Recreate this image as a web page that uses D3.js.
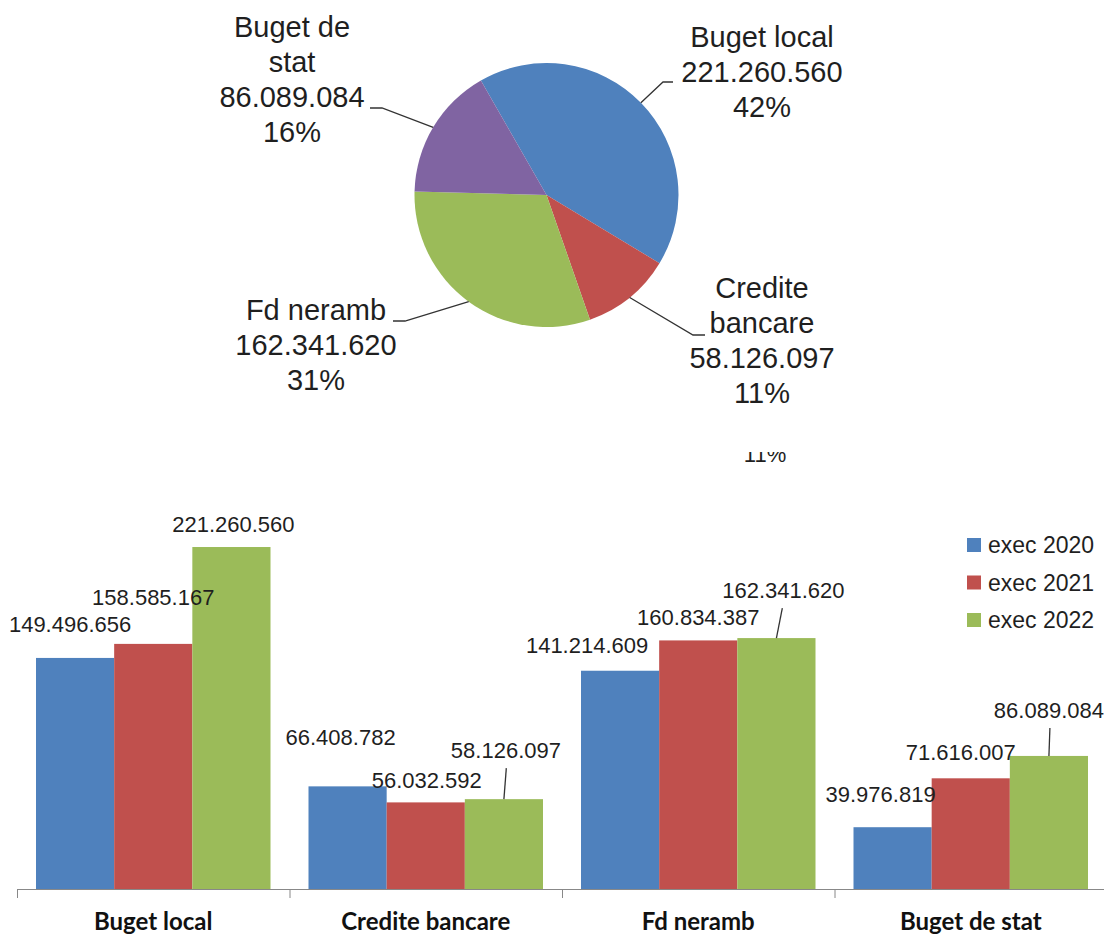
<!DOCTYPE html>
<html>
<head>
<meta charset="utf-8">
<script src="https://cdn.jsdelivr.net/npm/d3@7"></script>
<style>
  body { margin: 0; background: #fff; }
</style>
</head>
<body>
<div id="chart"></div>
<script>

// data
var categories = ["Buget local", "Credite bancare", "Fd neramb", "Buget de stat"];
var seriesNames = ["exec 2020", "exec 2021", "exec 2022"];
var exec2020 = [149496656, 66408782, 141214609, 39976819];
var exec2021 = [158585167, 56032592, 160834387, 71616007];
var exec2022 = [221260560, 58126097, 162341620, 86089084];
var colors = ["#4F81BD", "#C0504D", "#9BBB59", "#8064A2"];

// how the pie labels wrap
var pieNameLines = [["Buget local"], ["Credite", "bancare"], ["Fd neramb"], ["Buget de", "stat"]];

// hand placed label spots (layout only)
var pieLabelPos = [
    {x: 762, y: 47,  elbow: [663, 82],  end: [673, 82]},
    {x: 762, y: 298, elbow: [693, 335], end: [705, 335]},
    {x: 316, y: 320, elbow: [405, 321], end: [393, 321]},
    {x: 292, y: 37,  elbow: [382, 108], end: [370, 108]}
];
// [dx, dy, leader] relative to bar top centre, per category then series
var barLabelNudge = [
    [[-5, -26, 0], [0, -39, 0], [2, -15, 0]],
    [[-7, -41, 0], [1, -14, 0], [2, -41, 1]],
    [[-33, -18, 0], [0, -15, 0], [7, -40, 1]],
    [[-12, -25, 0], [-10, -18, 0], [0, -38, 1]]
];

var W = 1104, H = 937;
var FONT = "'Liberation Sans', Arial, Helvetica, sans-serif";
var fmt = d3.formatLocale({decimal: ",", thousands: ".", grouping: [3], currency: ["", ""]}).format(",d");

var svg = d3.select("#chart").append("svg")
    .attr("width", W)
    .attr("height", H)
    .attr("font-family", FONT)
    .style("font-family", FONT);

svg.append("rect").attr("width", W).attr("height", H).attr("fill", "#fff");

// ---------- pie ----------
var cx = 546.5, cy = 195, r = 132;
var total = d3.sum(exec2022);
var a0 = -29.8 * Math.PI / 180;

var pie = d3.pie().sort(null).startAngle(a0).endAngle(a0 + 2 * Math.PI);
var arcs = pie(exec2022);
var arc = d3.arc().innerRadius(0).outerRadius(r);

var pg = svg.append("g").attr("transform", "translate(" + cx + "," + cy + ")");
pg.selectAll("path.slice")
    .data(arcs)
    .enter().append("path")
    .attr("class", "slice")
    .attr("d", arc)
    .attr("fill", function(d, i) { return colors[i]; });

// leader lines
var edge = d3.arc().innerRadius(r).outerRadius(r);
arcs.forEach(function(d, i) {
    var c = edge.centroid(d);
    var p = pieLabelPos[i];
    svg.append("polyline")
        .attr("points", [[cx + c[0], cy + c[1]], p.elbow, p.end].map(function(q) { return q.join(","); }).join(" "))
        .attr("fill", "none")
        .attr("stroke", "#333")
        .attr("stroke-width", 1.3);
});

arcs.forEach(function(d, i) {
    var p = pieLabelPos[i];
    var lines = pieNameLines[i].concat([fmt(d.data), Math.round(d.data / total * 100) + "%"]);
    var t = svg.append("text")
        .attr("x", p.x)
        .attr("y", p.y)
        .attr("text-anchor", "middle")
        .attr("fill", "#1f1f1f")
        .style("font-size", "29px");
    lines.forEach(function(s, k) {
        t.append("tspan").attr("x", p.x).attr("dy", k === 0 ? 0 : 35).text(s);
    });
});

// stray half-cut label left under the pie
svg.append("clipPath").attr("id", "cut")
    .append("rect").attr("x", 0).attr("y", 452).attr("width", W).attr("height", 20);
svg.append("text")
    .attr("clip-path", "url(#cut)")
    .attr("x", 765).attr("y", 462)
    .attr("text-anchor", "middle")
    .attr("fill", "#1f1f1f")
    .style("font-size", "22px")
    .text(Math.round(exec2022[1] / total * 100) + "%");

// ---------- bars ----------
var series = [exec2020, exec2021, exec2022];
var base = 889;

var x0 = d3.scaleBand()
    .domain(categories)
    .range([17, 17 + 4 * 272.5]);

var x1 = d3.scaleBand()
    .domain(seriesNames)
    .range([19, x0.bandwidth() - 19]);

var y = d3.scaleLinear()
    .domain([0, 250000000])
    .range([base, 502.6]);

var groups = svg.selectAll("g.cat-group")
    .data(categories)
    .enter().append("g")
    .attr("class", "cat-group")
    .attr("transform", function(c) { return "translate(" + x0(c) + ",0)"; });

groups.selectAll("rect")
    .data(function(c, ci) { return seriesNames.map(function(s, si) { return {s: s, si: si, ci: ci, v: series[si][ci]}; }); })
    .enter().append("rect")
    .attr("x", function(d) { return x1(d.s); })
    .attr("y", function(d) { return y(d.v); })
    .attr("width", x1.bandwidth())
    .attr("height", function(d) { return base - y(d.v); })
    .attr("fill", function(d) { return colors[d.si]; });

// axis line + ticks at band edges
svg.append("line")
    .attr("x1", x0.range()[0]).attr("x2", x0.range()[1])
    .attr("y1", base + 0.5).attr("y2", base + 0.5)
    .attr("stroke", "#888");
svg.selectAll("line.tick")
    .data(categories.map(function(c) { return x0(c); }).concat([x0.range()[1]]))
    .enter().append("line")
    .attr("class", "tick")
    .attr("x1", function(d) { return d + 0.5; }).attr("x2", function(d) { return d + 0.5; })
    .attr("y1", base).attr("y2", base + 9)
    .attr("stroke", "#888");

svg.selectAll("text.cat")
    .data(categories)
    .enter().append("text")
    .attr("class", "cat")
    .attr("x", function(c) { return x0(c) + x0.bandwidth() / 2; })
    .attr("y", 930)
    .attr("text-anchor", "middle")
    .attr("fill", "#111")
    .style("font-family", "Lato, 'Open Sans', sans-serif")
    .style("font-weight", "bold")
    .style("font-size", "24px")
    .text(function(c) { return c; });

// value labels
categories.forEach(function(c, ci) {
    seriesNames.forEach(function(s, si) {
        var v = series[si][ci];
        var bx = x0(c) + x1(s) + x1.bandwidth() / 2;
        var by = y(v);
        var n = barLabelNudge[ci][si];
        var lx = bx + n[0], ly = by + n[1];
        if (n[2]) {
            svg.append("line")
                .attr("x1", lx + (bx - lx) * 0.3 + 1).attr("y1", ly + 10)
                .attr("x2", bx).attr("y2", by)
                .attr("stroke", "#333")
                .attr("stroke-width", 1.3);
        }
        svg.append("text")
            .attr("x", lx)
            .attr("y", ly)
            .attr("text-anchor", "middle")
            .attr("fill", "#1f1f1f")
            .style("font-size", "22px")
            .text(fmt(v));
    });
});

// legend
var leg = svg.selectAll("g.leg")
    .data(seriesNames)
    .enter().append("g")
    .attr("class", "leg")
    .attr("transform", function(d, i) { return "translate(967," + (545 + i * 37.5) + ")"; });
leg.append("rect")
    .attr("x", 0).attr("y", -7)
    .attr("width", 14).attr("height", 14)
    .attr("fill", function(d, i) { return colors[i]; });
leg.append("text")
    .attr("x", 21).attr("y", 8)
    .attr("fill", "#1f1f1f")
    .style("font-size", "23px")
    .text(function(d) { return d; });

</script>
</body>
</html>
